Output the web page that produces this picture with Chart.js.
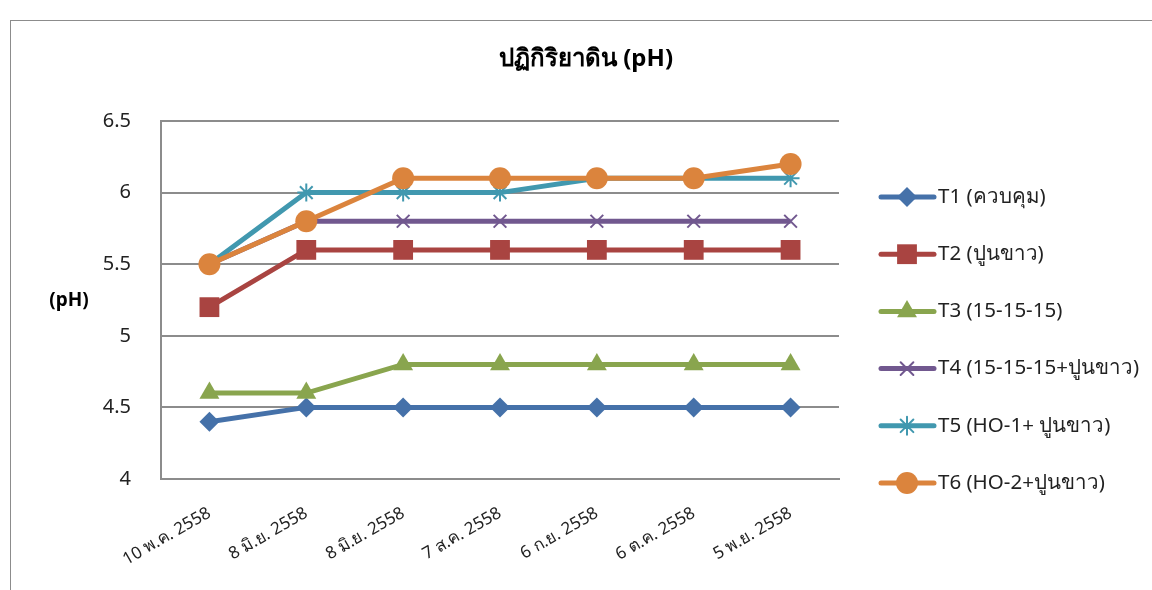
<!DOCTYPE html>
<html>
<head>
<meta charset="utf-8">
<script src="https://cdn.jsdelivr.net/npm/chart.js@4.4.0/dist/chart.umd.min.js"></script>
<style>
  body { margin: 0; background: #fff; overflow: hidden; }
  #frame {
    position: absolute; left: 10px; top: 20px;
    width: 1160px; height: 600px;
    border: 1px solid #8c8c8c;
  }
  #wrap { position: absolute; left: 1px; top: 1px; width: 1141px; height: 569px; }
</style>
</head>
<body>
<div id="frame"><div id="wrap"><canvas id="chart"></canvas></div></div>
<script>
const FONT = "Tahoma, 'Noto Sans', 'DejaVu Sans', sans-serif";

// sampling dates and pH readings per treatment
const dates = ["10 พ.ค. 2558", "8 มิ.ย. 2558", "8 มิ.ย. 2558", "7 ส.ค. 2558", "6 ก.ย. 2558", "6 ต.ค. 2558", "5 พ.ย. 2558"];
const seriesNames = ["T1 (ควบคุม)", "T2 (ปูนขาว)", "T3 (15-15-15)", "T4 (15-15-15+ปูนขาว)", "T5 (HO-1+ ปูนขาว)", "T6 (HO-2+ปูนขาว)"];
const t1 = [4.4, 4.5, 4.5, 4.5, 4.5, 4.5, 4.5];
const t2 = [5.2, 5.6, 5.6, 5.6, 5.6, 5.6, 5.6];
const t3 = [4.6, 4.6, 4.8, 4.8, 4.8, 4.8, 4.8];
const t4 = [5.5, 5.8, 5.8, 5.8, 5.8, 5.8, 5.8];
const t5 = [5.5, 6.0, 6.0, 6.0, 6.1, 6.1, 6.1];
const t6 = [5.5, 5.8, 6.1, 6.1, 6.1, 6.1, 6.2];
const yTicks = [4, 4.5, 5, 5.5, 6, 6.5];

const colors = ["#4571a9", "#a94441", "#89a54e", "#71588f", "#4198af", "#db843d"];
const markers = ["rectRot", "rect", "triangle", "crossRot", "star", "circle"];
const radii = [10, 14, 11.5, 9, 9, 11];
const allData = [t1, t2, t3, t4, t5, t6];

const datasets = allData.map((d, i) => ({
    label: seriesNames[i],
    data: d,
    borderColor: colors[i],
    backgroundColor: colors[i],
    borderWidth: 5,
    pointStyle: markers[i],
    pointRadius: radii[i],
    pointBorderWidth: (markers[i] === "crossRot" || markers[i] === "star") ? 2 : 0,
    pointBorderColor: colors[i],
    pointBackgroundColor: colors[i],
    tension: 0,
    order: 6 - i
}));

// title, horizontal "(pH)" caption and the legend column on the right
const sideDecor = {
    id: "sideDecor",
    afterDraw(chart) {
        const ctx = chart.ctx;
        ctx.save();
        ctx.fillStyle = "#000";
        ctx.textAlign = "center";
        ctx.textBaseline = "middle";
        ctx.font = "bold 24px " + FONT;
        ctx.fillText("ปฏิกิริยาดิน (pH)", 574, 37);

        ctx.font = "bold 19px " + FONT;
        ctx.fillText("(pH)", 57, 279);

        ctx.font = "20.5px " + FONT;
        ctx.textAlign = "left";
        chart.data.datasets.forEach((ds, i) => {
            const y = 175 + i * 57.2;
            ctx.strokeStyle = ds.borderColor;
            ctx.lineWidth = 5;
            ctx.lineCap = "round";
            ctx.beginPath();
            ctx.moveTo(869, y);
            ctx.lineTo(922, y);
            ctx.stroke();
            ctx.fillStyle = ds.backgroundColor;
            ctx.lineWidth = ds.pointBorderWidth;
            Chart.helpers.drawPoint(ctx, {
                pointStyle: ds.pointStyle,
                radius: ds.pointRadius,
                rotation: 0,
                borderWidth: ds.pointBorderWidth
            }, 895, y);
            ctx.fillStyle = "#222";
            ctx.fillText(ds.label, 926, y);
        });
        ctx.restore();
    }
};

new Chart(document.getElementById("chart"), {
    type: "line",
    data: { labels: dates, datasets: datasets },
    plugins: [sideDecor],
    options: {
        responsive: true,
        maintainAspectRatio: false,
        animation: false,
        layout: { padding: { left: 0, right: 314, top: 99, bottom: 0 } },
        plugins: {
            legend: { display: false },
            tooltip: { enabled: false },
            title: { display: false }
        },
        scales: {
            x: {
                offset: true,
                grid: { display: false },
                border: { display: true, color: "#8c8c8c", width: 2 },
                ticks: {
                    color: "#222",
                    font: { family: FONT, size: 17 },
                    maxRotation: 30,
                    minRotation: 30,
                    padding: 16
                },
                afterFit(scale) { scale.height = 112; }
            },
            y: {
                min: 4,
                max: 6.5,
                afterBuildTicks(scale) { scale.ticks = yTicks.map(v => ({ value: v })); },
                grid: { color: "#8c8c8c", lineWidth: 2, drawTicks: false },
                border: { display: true, color: "#8c8c8c", width: 2 },
                ticks: {
                    color: "#222",
                    font: { family: FONT, size: 20 },
                    padding: 30,
                    callback: v => String(v)
                },
                afterFit(scale) { scale.width = 149; }
            }
        }
    }
});
</script>
</body>
</html>
